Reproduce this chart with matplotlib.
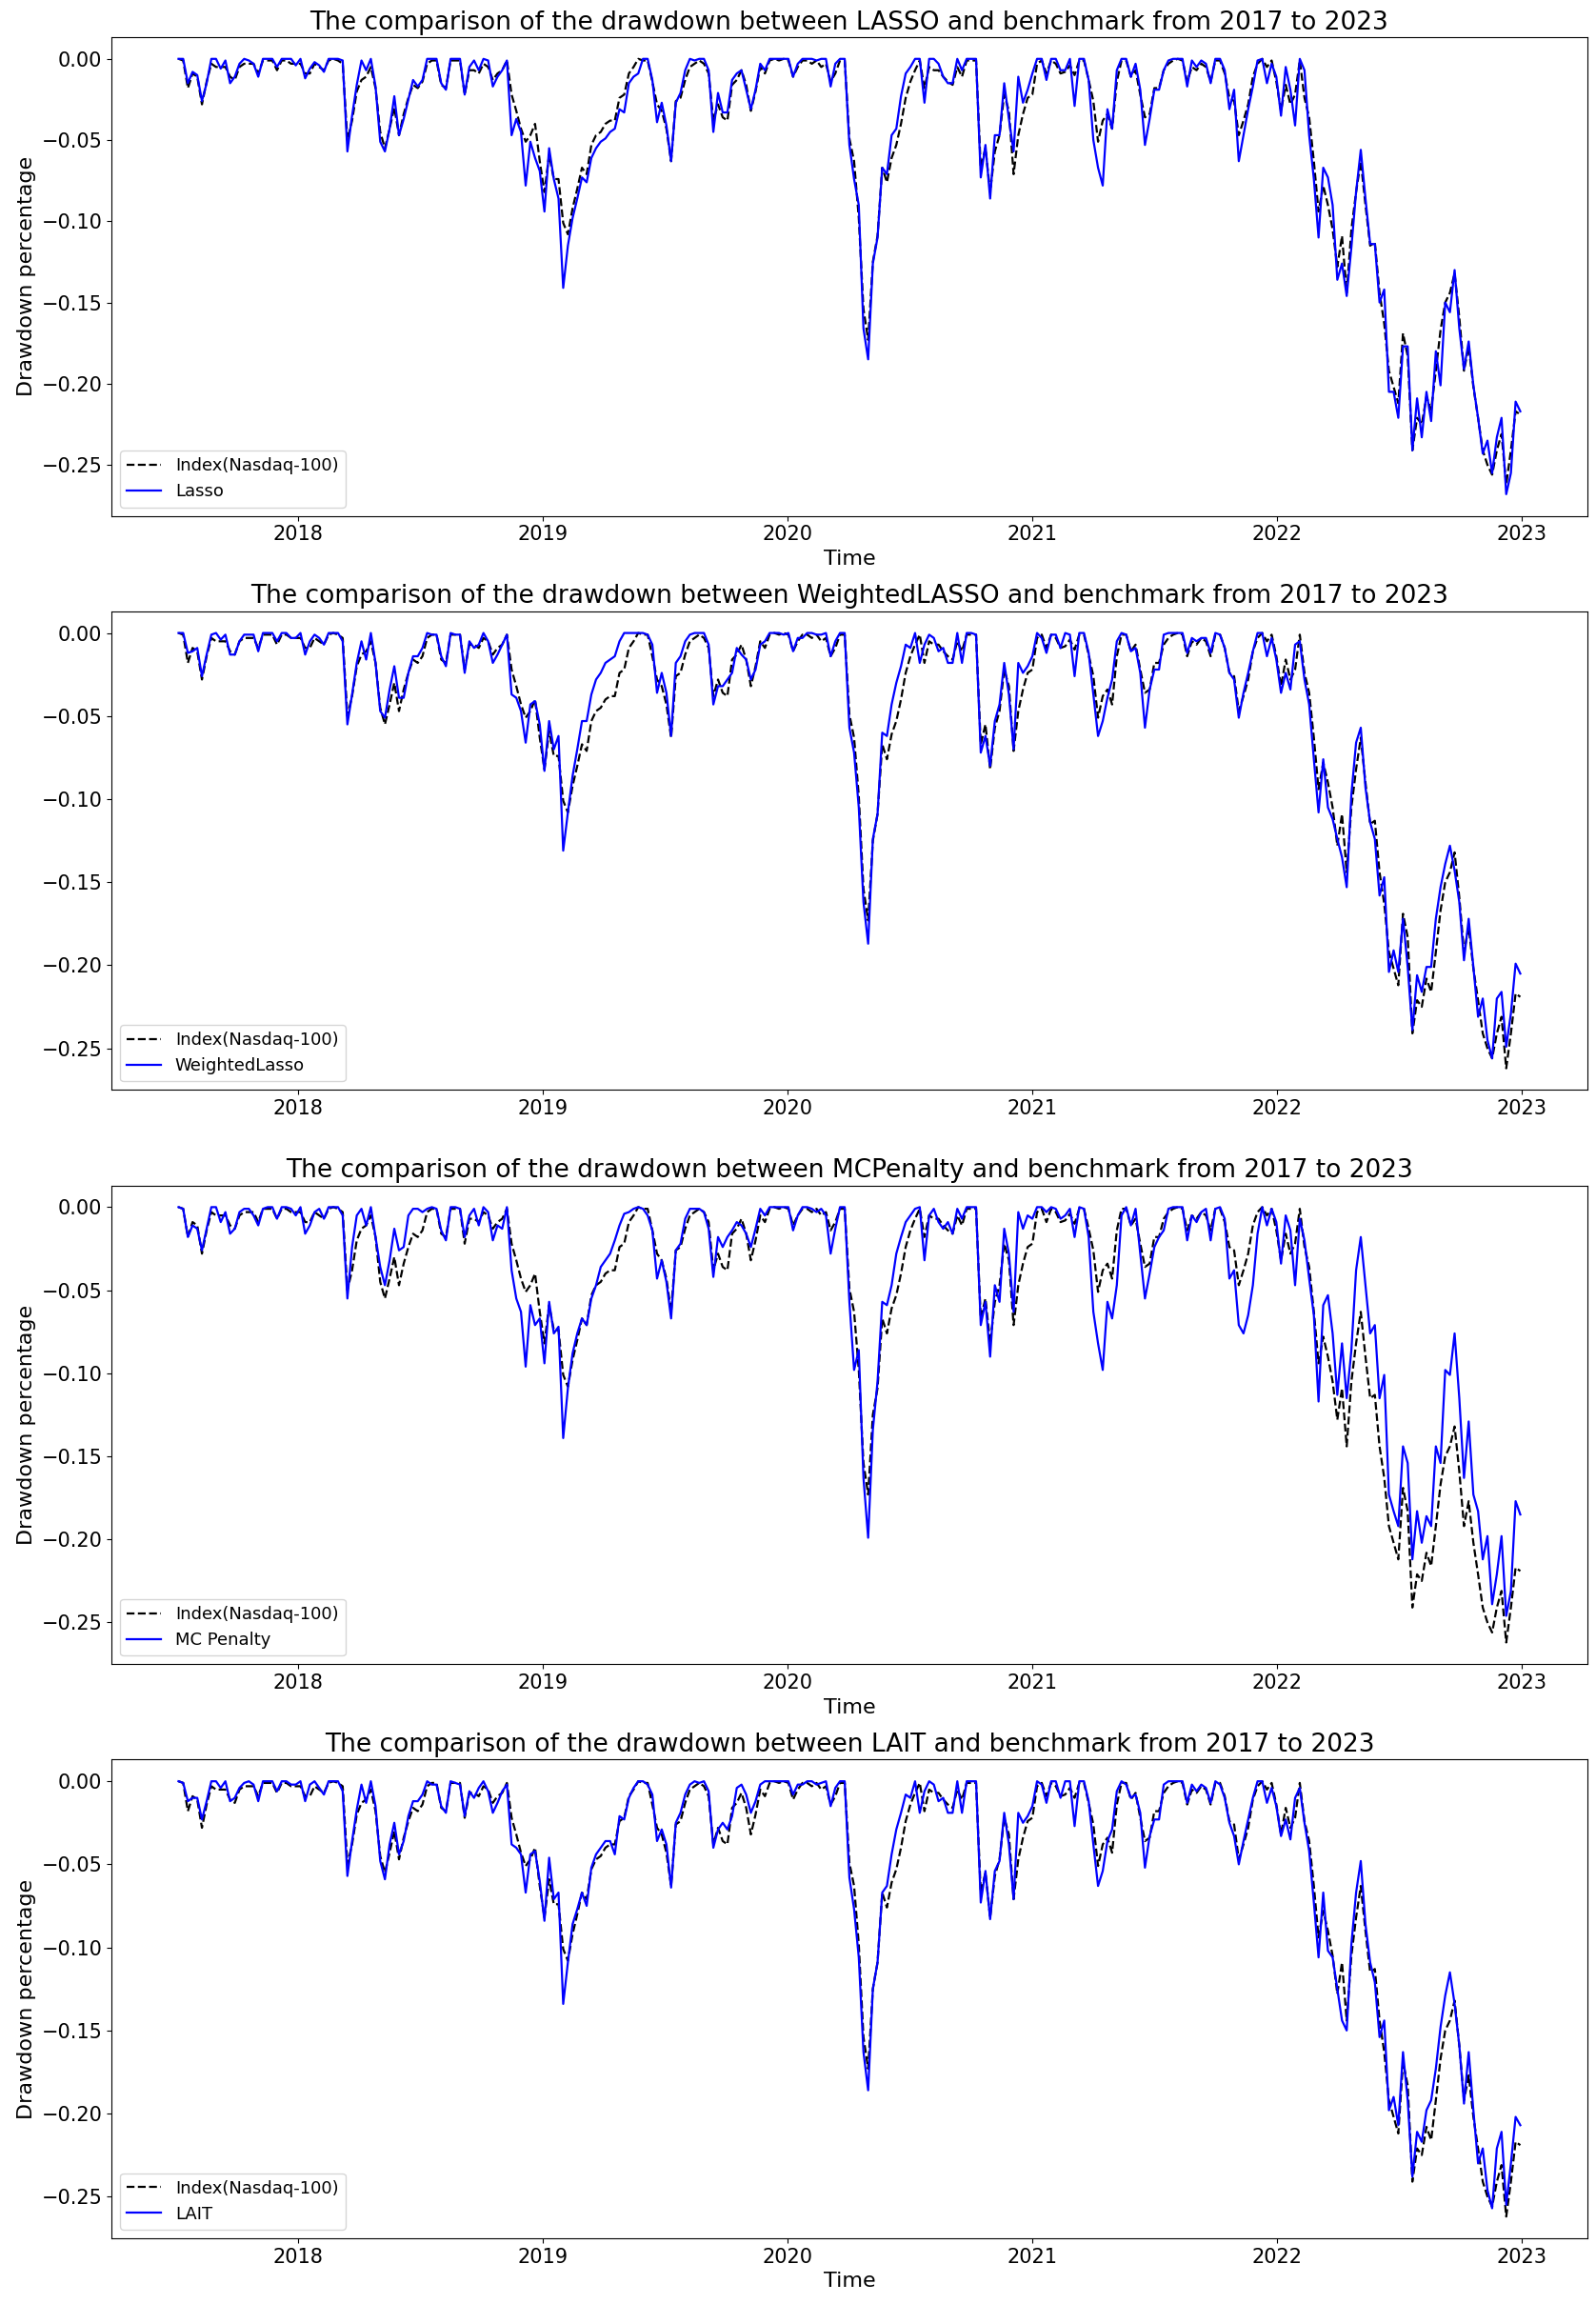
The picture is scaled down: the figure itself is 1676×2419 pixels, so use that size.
import matplotlib
matplotlib.use('Agg')
import matplotlib.pyplot as plt
import pandas as pd

# weekly sampling dates (Fridays)
dates = pd.date_range('2017-07-07', '2022-12-30', freq='W-FRI')

index_dd = [
    0.000, -0.001, -0.018, -0.009, -0.011, -0.028, -0.014, -0.003, -0.005, -0.005,
    -0.005, -0.011, -0.013, -0.005, -0.003, -0.003, -0.003, -0.009, -0.001, -0.001,
    -0.001, -0.007, -0.001, -0.001, -0.003, -0.003, -0.003, -0.009, -0.009, -0.003,
    -0.005, -0.007, -0.001, 0.000, -0.001, -0.003, -0.050, -0.038, -0.020, -0.013,
    -0.011, -0.005, -0.018, -0.045, -0.055, -0.043, -0.030, -0.047, -0.034, -0.024,
    -0.016, -0.018, -0.014, -0.003, -0.001, -0.001, -0.016, -0.018, -0.001, -0.001,
    -0.001, -0.022, -0.007, -0.007, -0.009, -0.003, -0.005, -0.013, -0.009, -0.007,
    -0.001, -0.022, -0.032, -0.043, -0.051, -0.047, -0.040, -0.063, -0.082, -0.059,
    -0.074, -0.074, -0.101, -0.108, -0.092, -0.080, -0.067, -0.071, -0.053, -0.047,
    -0.045, -0.040, -0.038, -0.038, -0.024, -0.022, -0.009, -0.005, 0.000, -0.001,
    -0.001, -0.014, -0.028, -0.032, -0.043, -0.063, -0.026, -0.024, -0.013, -0.005,
    -0.003, -0.001, -0.003, -0.009, -0.038, -0.028, -0.036, -0.038, -0.016, -0.013,
    -0.007, -0.016, -0.032, -0.020, -0.005, -0.009, -0.001, 0.000, -0.001, 0.000,
    -0.001, -0.011, -0.005, -0.001, -0.001, -0.003, -0.001, -0.005, -0.003, -0.014,
    -0.009, -0.001, -0.001, -0.049, -0.063, -0.098, -0.154, -0.173, -0.125, -0.109,
    -0.067, -0.076, -0.061, -0.053, -0.040, -0.024, -0.014, -0.007, -0.001, -0.018,
    -0.005, -0.007, -0.007, -0.011, -0.014, -0.016, -0.005, -0.011, -0.001, -0.001,
    -0.001, -0.067, -0.055, -0.082, -0.057, -0.047, -0.022, -0.032, -0.071, -0.047,
    -0.034, -0.024, -0.022, -0.003, -0.001, -0.009, -0.001, -0.003, -0.009, -0.008,
    -0.004, -0.010, -0.001, -0.001, -0.013, -0.026, -0.051, -0.038, -0.034, -0.043,
    -0.014, -0.001, -0.001, -0.011, -0.007, -0.022, -0.036, -0.034, -0.018, -0.018,
    -0.007, -0.003, -0.001, 0.000, -0.001, -0.014, -0.005, -0.007, -0.003, -0.005,
    -0.014, -0.001, -0.001, -0.009, -0.024, -0.026, -0.047, -0.038, -0.028, -0.011,
    -0.003, 0.000, -0.005, -0.001, -0.014, -0.032, -0.016, -0.028, -0.022, -0.001,
    -0.024, -0.036, -0.063, -0.094, -0.078, -0.090, -0.105, -0.128, -0.109, -0.144,
    -0.105, -0.082, -0.063, -0.090, -0.115, -0.113, -0.144, -0.163, -0.192, -0.202,
    -0.212, -0.169, -0.183, -0.241, -0.221, -0.225, -0.208, -0.216, -0.192, -0.167,
    -0.150, -0.144, -0.132, -0.159, -0.192, -0.177, -0.202, -0.221, -0.241, -0.250,
    -0.256, -0.241, -0.231, -0.262, -0.241, -0.217, -0.219,
]

lasso_dd = [
    0.000, 0.000, -0.015, -0.008, -0.010, -0.026, -0.015, 0.000, 0.000, -0.006,
    -0.001, -0.015, -0.011, -0.003, 0.000, -0.001, -0.003, -0.011, 0.000, 0.000,
    0.000, -0.005, 0.000, 0.000, 0.000, -0.004, 0.000, -0.012, -0.006, -0.002,
    -0.004, -0.008, 0.000, 0.000, 0.000, -0.001, -0.057, -0.035, -0.016, -0.001,
    -0.007, 0.000, -0.017, -0.051, -0.057, -0.043, -0.023, -0.047, -0.037, -0.025,
    -0.013, -0.017, -0.013, 0.000, 0.000, 0.000, -0.015, -0.019, 0.000, 0.000,
    0.000, -0.022, -0.005, -0.001, -0.007, 0.000, -0.001, -0.017, -0.011, -0.007,
    -0.001, -0.047, -0.037, -0.045, -0.078, -0.051, -0.061, -0.069, -0.094, -0.055,
    -0.074, -0.086, -0.141, -0.115, -0.098, -0.086, -0.073, -0.076, -0.061, -0.055,
    -0.051, -0.049, -0.045, -0.043, -0.031, -0.033, -0.015, -0.011, -0.009, 0.000,
    0.000, -0.013, -0.039, -0.027, -0.041, -0.063, -0.027, -0.021, -0.007, 0.000,
    -0.001, 0.000, 0.000, -0.007, -0.045, -0.021, -0.033, -0.033, -0.013, -0.009,
    -0.007, -0.019, -0.031, -0.019, -0.003, -0.007, 0.000, 0.000, 0.000, 0.000,
    0.000, -0.011, -0.003, 0.000, 0.000, 0.000, -0.001, 0.000, 0.000, -0.017,
    -0.003, 0.000, 0.000, -0.053, -0.074, -0.090, -0.166, -0.185, -0.126, -0.110,
    -0.067, -0.071, -0.047, -0.043, -0.023, -0.009, -0.005, 0.000, 0.000, -0.027,
    0.000, 0.000, -0.003, -0.011, -0.015, -0.015, 0.000, -0.007, 0.000, 0.000,
    0.000, -0.073, -0.053, -0.086, -0.047, -0.047, -0.015, -0.037, -0.057, -0.011,
    -0.027, -0.019, -0.009, 0.000, 0.000, -0.013, 0.000, 0.000, -0.007, -0.007,
    0.000, -0.029, 0.000, 0.000, -0.013, -0.050, -0.067, -0.078, -0.031, -0.043,
    -0.007, 0.000, 0.000, -0.011, -0.003, -0.019, -0.053, -0.037, -0.019, -0.019,
    -0.007, -0.001, 0.000, 0.000, 0.000, -0.017, -0.001, -0.005, -0.001, -0.003,
    -0.015, 0.000, 0.000, -0.007, -0.031, -0.019, -0.063, -0.047, -0.031, -0.017,
    -0.001, 0.000, -0.015, -0.003, -0.011, -0.035, -0.005, -0.019, -0.041, 0.000,
    -0.007, -0.047, -0.074, -0.110, -0.067, -0.073, -0.090, -0.136, -0.126, -0.146,
    -0.116, -0.082, -0.056, -0.086, -0.114, -0.114, -0.150, -0.142, -0.205, -0.205,
    -0.221, -0.177, -0.177, -0.241, -0.209, -0.233, -0.205, -0.223, -0.180, -0.201,
    -0.150, -0.156, -0.130, -0.166, -0.191, -0.174, -0.201, -0.221, -0.243, -0.235,
    -0.255, -0.233, -0.221, -0.268, -0.255, -0.211, -0.217,
]

weighted_lasso_dd = [
    0.000, 0.000, -0.012, -0.011, -0.009, -0.026, -0.013, -0.001, 0.000, -0.004,
    -0.001, -0.013, -0.013, -0.005, -0.001, -0.001, -0.001, -0.011, 0.000, 0.000,
    0.000, -0.005, 0.000, 0.000, -0.003, -0.003, 0.000, -0.013, -0.005, -0.001,
    -0.003, -0.007, 0.000, 0.000, 0.000, -0.005, -0.055, -0.037, -0.018, -0.005,
    -0.016, 0.000, -0.018, -0.047, -0.051, -0.034, -0.020, -0.039, -0.039, -0.024,
    -0.014, -0.014, -0.009, 0.000, -0.001, -0.001, -0.014, -0.020, 0.000, -0.001,
    -0.001, -0.024, -0.005, -0.009, -0.007, 0.000, -0.005, -0.018, -0.013, -0.007,
    -0.001, -0.037, -0.039, -0.047, -0.066, -0.043, -0.041, -0.055, -0.083, -0.053,
    -0.070, -0.062, -0.131, -0.108, -0.086, -0.070, -0.053, -0.053, -0.037, -0.028,
    -0.024, -0.018, -0.016, -0.014, -0.005, 0.000, 0.000, 0.000, 0.000, 0.000,
    -0.001, -0.007, -0.036, -0.024, -0.036, -0.062, -0.018, -0.014, -0.005, -0.001,
    0.000, 0.000, 0.000, -0.007, -0.043, -0.032, -0.032, -0.028, -0.024, -0.009,
    -0.013, -0.016, -0.028, -0.022, -0.007, -0.005, 0.000, 0.000, 0.000, -0.001,
    0.000, -0.011, -0.003, -0.003, 0.000, 0.000, -0.001, -0.001, 0.000, -0.014,
    -0.005, 0.000, 0.000, -0.057, -0.072, -0.105, -0.162, -0.187, -0.124, -0.109,
    -0.060, -0.062, -0.043, -0.030, -0.020, -0.007, -0.009, 0.000, -0.018, -0.007,
    -0.001, -0.003, -0.011, -0.009, -0.018, -0.018, 0.000, -0.018, 0.000, 0.000,
    -0.001, -0.072, -0.062, -0.080, -0.053, -0.043, -0.018, -0.037, -0.070, -0.018,
    -0.024, -0.020, -0.014, 0.000, -0.003, -0.012, -0.001, -0.001, -0.009, 0.000,
    -0.001, -0.026, 0.000, 0.000, -0.012, -0.037, -0.062, -0.053, -0.039, -0.028,
    -0.005, 0.000, -0.001, -0.011, -0.009, -0.024, -0.057, -0.034, -0.022, -0.022,
    -0.001, 0.000, 0.000, 0.000, 0.000, -0.012, -0.003, -0.005, -0.003, -0.003,
    -0.012, 0.000, -0.001, -0.009, -0.024, -0.028, -0.051, -0.036, -0.024, -0.011,
    0.000, 0.000, -0.014, -0.003, -0.016, -0.036, -0.024, -0.034, -0.007, -0.005,
    -0.028, -0.043, -0.076, -0.108, -0.076, -0.105, -0.112, -0.124, -0.135, -0.153,
    -0.097, -0.066, -0.057, -0.093, -0.114, -0.124, -0.158, -0.147, -0.204, -0.191,
    -0.204, -0.172, -0.201, -0.239, -0.206, -0.216, -0.201, -0.201, -0.172, -0.153,
    -0.139, -0.128, -0.143, -0.162, -0.197, -0.172, -0.201, -0.231, -0.220, -0.245,
    -0.256, -0.220, -0.216, -0.249, -0.229, -0.199, -0.205,
]

mc_penalty_dd = [
    0.000, -0.001, -0.018, -0.011, -0.013, -0.026, -0.013, 0.000, 0.000, -0.009,
    -0.003, -0.016, -0.013, -0.003, -0.001, -0.001, -0.005, -0.011, -0.001, 0.000,
    0.000, -0.007, 0.000, 0.000, -0.001, -0.005, 0.000, -0.016, -0.011, -0.003,
    -0.001, -0.007, 0.000, 0.000, 0.000, -0.005, -0.055, -0.024, -0.005, -0.001,
    -0.011, 0.000, -0.018, -0.036, -0.047, -0.032, -0.013, -0.026, -0.024, -0.005,
    -0.001, -0.001, -0.003, -0.001, 0.000, -0.001, -0.014, -0.020, 0.000, 0.000,
    -0.001, -0.018, -0.005, -0.001, -0.011, 0.000, -0.003, -0.020, -0.011, -0.013,
    0.000, -0.038, -0.055, -0.063, -0.096, -0.059, -0.071, -0.067, -0.094, -0.057,
    -0.076, -0.072, -0.139, -0.109, -0.088, -0.076, -0.067, -0.071, -0.055, -0.047,
    -0.036, -0.032, -0.028, -0.020, -0.011, -0.004, -0.003, -0.001, 0.000, -0.001,
    -0.005, -0.014, -0.043, -0.032, -0.045, -0.067, -0.026, -0.022, -0.007, -0.001,
    -0.001, -0.001, -0.003, -0.013, -0.042, -0.018, -0.024, -0.018, -0.014, -0.009,
    -0.011, -0.016, -0.024, -0.013, -0.001, -0.005, 0.000, 0.000, 0.000, 0.000,
    0.000, -0.014, -0.005, 0.000, 0.000, -0.001, -0.003, -0.001, -0.005, -0.028,
    -0.013, 0.000, 0.000, -0.057, -0.098, -0.086, -0.163, -0.199, -0.134, -0.105,
    -0.057, -0.059, -0.047, -0.028, -0.018, -0.009, -0.005, -0.001, 0.000, -0.032,
    -0.005, -0.001, -0.009, -0.013, -0.009, -0.016, -0.001, -0.007, 0.000, 0.000,
    0.000, -0.071, -0.057, -0.090, -0.047, -0.057, -0.013, -0.028, -0.063, -0.003,
    -0.013, -0.005, -0.007, 0.000, 0.000, -0.003, 0.000, -0.001, -0.007, -0.005,
    -0.001, -0.018, 0.000, -0.001, -0.018, -0.063, -0.082, -0.098, -0.057, -0.067,
    -0.047, -0.005, 0.000, -0.011, -0.001, -0.028, -0.055, -0.040, -0.024, -0.018,
    -0.014, -0.001, 0.000, 0.000, 0.000, -0.020, -0.005, -0.009, -0.003, -0.001,
    -0.020, -0.001, 0.000, -0.007, -0.043, -0.038, -0.071, -0.076, -0.065, -0.047,
    -0.016, 0.000, -0.011, -0.001, -0.009, -0.034, -0.005, -0.014, -0.047, -0.007,
    -0.020, -0.043, -0.065, -0.117, -0.059, -0.053, -0.076, -0.113, -0.082, -0.115,
    -0.086, -0.038, -0.018, -0.047, -0.076, -0.071, -0.115, -0.101, -0.173, -0.183,
    -0.192, -0.144, -0.154, -0.212, -0.183, -0.202, -0.186, -0.192, -0.144, -0.154,
    -0.098, -0.101, -0.076, -0.115, -0.163, -0.129, -0.173, -0.183, -0.212, -0.198,
    -0.239, -0.221, -0.198, -0.246, -0.231, -0.177, -0.185,
]

lait_dd = [
    0.000, -0.001, -0.012, -0.010, -0.010, -0.023, -0.012, 0.000, 0.000, -0.004,
    0.000, -0.012, -0.010, -0.004, -0.001, 0.000, -0.002, -0.012, 0.000, 0.000,
    0.000, -0.006, 0.000, 0.000, -0.002, -0.002, 0.000, -0.012, -0.002, 0.000,
    -0.004, -0.008, 0.000, 0.000, 0.000, -0.006, -0.057, -0.036, -0.017, -0.002,
    -0.013, 0.000, -0.015, -0.048, -0.059, -0.038, -0.025, -0.044, -0.036, -0.021,
    -0.012, -0.012, -0.008, 0.000, -0.002, -0.002, -0.015, -0.019, 0.000, -0.001,
    -0.002, -0.021, -0.006, -0.010, -0.004, 0.000, -0.006, -0.019, -0.013, -0.006,
    -0.002, -0.038, -0.040, -0.044, -0.067, -0.044, -0.042, -0.060, -0.084, -0.046,
    -0.071, -0.067, -0.134, -0.109, -0.086, -0.077, -0.067, -0.075, -0.052, -0.044,
    -0.040, -0.036, -0.036, -0.044, -0.021, -0.023, -0.010, -0.004, 0.000, 0.000,
    -0.002, -0.008, -0.036, -0.029, -0.038, -0.064, -0.025, -0.019, -0.008, -0.002,
    0.000, -0.001, 0.000, -0.006, -0.040, -0.029, -0.025, -0.029, -0.021, -0.004,
    -0.002, -0.008, -0.019, -0.012, -0.002, 0.000, 0.000, 0.000, 0.000, 0.000,
    0.000, -0.008, -0.002, -0.002, 0.000, 0.000, -0.002, -0.001, 0.000, -0.015,
    -0.004, 0.000, 0.000, -0.058, -0.077, -0.106, -0.163, -0.186, -0.125, -0.109,
    -0.067, -0.063, -0.044, -0.029, -0.019, -0.008, -0.010, 0.000, -0.019, -0.006,
    0.000, -0.002, -0.012, -0.010, -0.019, -0.019, 0.000, -0.019, 0.000, 0.000,
    0.000, -0.073, -0.054, -0.083, -0.054, -0.048, -0.019, -0.038, -0.071, -0.019,
    -0.025, -0.021, -0.015, 0.000, -0.002, -0.013, 0.000, 0.000, -0.010, 0.000,
    0.000, -0.027, 0.000, 0.000, -0.012, -0.038, -0.063, -0.054, -0.036, -0.029,
    -0.006, 0.000, -0.002, -0.010, -0.008, -0.019, -0.052, -0.033, -0.023, -0.023,
    -0.002, 0.000, 0.000, 0.000, 0.000, -0.013, -0.002, -0.006, -0.002, -0.004,
    -0.013, 0.000, -0.002, -0.010, -0.025, -0.033, -0.050, -0.036, -0.023, -0.010,
    0.000, 0.000, -0.013, -0.004, -0.015, -0.033, -0.023, -0.035, -0.010, -0.004,
    -0.025, -0.042, -0.073, -0.106, -0.067, -0.102, -0.106, -0.125, -0.144, -0.150,
    -0.098, -0.067, -0.048, -0.086, -0.109, -0.121, -0.154, -0.144, -0.198, -0.190,
    -0.207, -0.163, -0.192, -0.238, -0.211, -0.217, -0.198, -0.192, -0.173, -0.148,
    -0.129, -0.115, -0.134, -0.159, -0.194, -0.163, -0.198, -0.230, -0.221, -0.246,
    -0.257, -0.221, -0.211, -0.255, -0.230, -0.202, -0.207,
]

model_titles = ["LASSO", "WeightedLASSO", "MCPenalty", "LAIT"]
model_labels = ["Lasso", "WeightedLasso", "MC Penalty", "LAIT"]
model_series = [lasso_dd, weighted_lasso_dd, mc_penalty_dd, lait_dd]
show_axis_labels = [True, False, True, True]

n = len(dates)
for s in [index_dd] + model_series:
    assert len(s) == n, (len(s), n)

fig, axes = plt.subplots(4, 1, figsize=(16.76, 24.19), dpi=100)
fig.subplots_adjust(left=0.0698, right=0.9946, top=0.9839, bottom=0.0285, hspace=0.199)

for ax, tname, lname, vals, show in zip(axes, model_titles, model_labels, model_series, show_axis_labels):
    ax.plot(dates, index_dd, 'k--', lw=1.6, label='Index(Nasdaq-100)')
    ax.plot(dates, vals, color='blue', lw=1.6, label=lname)
    ax.set_title(f'The comparison of the drawdown between {tname} and benchmark from 2017 to 2023',
                 fontsize=19)
    if show:
        ax.set_xlabel('Time', fontsize=16)
        ax.set_ylabel('Drawdown percentage', fontsize=16)
    ax.tick_params(axis='both', labelsize=15)
    ax.legend(loc='lower left', fontsize=13)

fig.savefig('out.png', dpi=100)
